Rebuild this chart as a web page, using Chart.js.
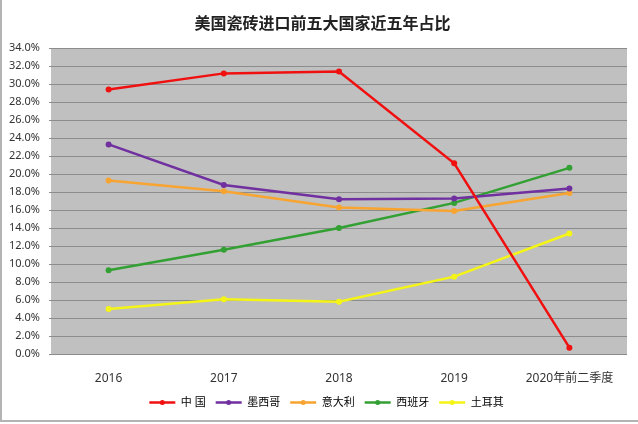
<!DOCTYPE html>
<html lang="zh">
<head>
<meta charset="UTF-8">
<title>美国瓷砖进口前五大国家近五年占比</title>
<style>
  html, body { margin: 0; padding: 0; background: #fff; }
  .wrap { position: relative; width: 638px; height: 424px; }
  .wrap canvas { position: absolute; left: 0; top: 0; }
  .frame {
    position: absolute;
    left: 0; top: 0; width: 638px; height: 422px;
    border-left: 2px solid #b4b4b4;
    border-bottom: 2px solid #b4b4b4;
    box-sizing: border-box;
    pointer-events: none;
  }
</style>
</head>
<body>
<div class="wrap"><canvas id="chart" width="638" height="424"></canvas><div class="frame"></div></div>
<script src="https://cdn.jsdelivr.net/npm/chart.js"></script>
<script>
const categories = ['2016', '2017', '2018', '2019', '2020年前二季度'];
const china  = [29.4, 31.2, 31.4, 21.2, 0.7];
const mexico = [23.3, 18.8, 17.2, 17.3, 18.4];
const italy  = [19.3, 18.1, 16.3, 15.9, 17.9];
const spain  = [9.3, 11.6, 14.0, 16.8, 20.7];
const turkey = [5.0, 6.1, 5.8, 8.6, 13.4];

const seriesNames = ['中 国', '墨西哥', '意大利', '西班牙', '土耳其'];
const seriesColors = ['#f01010', '#7030a0', '#f8a431', '#33a033', '#f4f416'];
const seriesData = [china, mexico, italy, spain, turkey];

const fontFamily = '"Noto Sans", "Noto Sans CJK SC", sans-serif';

// grey plot background like the excel chart
const plotBg = {
  id: 'plotBg',
  beforeDraw(chart) {
    const a = chart.chartArea, ctx = chart.ctx;
    ctx.save();
    ctx.fillStyle = '#c0c0c0';
    ctx.fillRect(a.left, a.top, a.right - a.left, a.bottom - a.top);
    ctx.restore();
  }
};

// title and legend sit a bit right of the canvas centre in the original
const blockShift = {
  id: 'blockShift',
  afterLayout(chart) {
    const lg = chart.legend, dx = 13;
    lg.left += dx;
    lg.right += dx;
    (lg.legendHitBoxes || []).forEach(b => { b.left += dx; });
    const tb = chart.titleBlock;
    if (tb) { tb.left += 9; tb.right += 9; }
  }
};

// dot in the middle of each legend line
const legendDots = {
  id: 'legendDots',
  afterDraw(chart) {
    const lg = chart.legend, ctx = chart.ctx;
    if (!lg || !lg.legendHitBoxes) return;
    lg.legendHitBoxes.forEach((box, i) => {
      const bw = lg.options.labels.boxWidth;
      ctx.save();
      ctx.fillStyle = seriesColors[i];
      ctx.beginPath();
      ctx.arc(box.left + bw / 2, box.top + box.height / 2, 2.5, 0, Math.PI * 2);
      ctx.fill();
      ctx.restore();
    });
  }
};

new Chart(document.getElementById('chart'), {
  type: 'line',
  data: {
    labels: categories,
    datasets: seriesData.map((d, i) => ({
      label: seriesNames[i],
      data: d,
      borderColor: seriesColors[i],
      backgroundColor: seriesColors[i],
      borderWidth: 2.5,
      pointRadius: 3,
      pointBorderWidth: 0,
      pointStyle: 'circle',
      tension: 0
    }))
  },
  options: {
    responsive: false,
    animation: false,
    devicePixelRatio: 1,
    layout: { padding: { left: 0, right: 11, top: 0, bottom: 6 } },
    plugins: {
      title: {
        display: true,
        text: '美国瓷砖进口前五大国家近五年占比',
        color: '#222',
        font: { family: fontFamily, size: 16, weight: 'bold' },
        padding: { top: 15, bottom: 14 }
      },
      legend: {
        position: 'bottom',
        labels: {
          usePointStyle: false,
          boxWidth: 26,
          boxHeight: 0,
          padding: 10,
          color: '#333',
          font: { family: fontFamily, size: 11 },
          generateLabels(chart) {
            return chart.data.datasets.map((ds, i) => ({
              text: ds.label,
              fillStyle: seriesColors[i],
              strokeStyle: seriesColors[i],
              lineWidth: 2.5,
              datasetIndex: i,
              hidden: false
            }));
          }
        }
      },
      tooltip: { enabled: false }
    },
    scales: {
      x: {
        offset: true,
        grid: { display: false },
        border: { display: false },
        ticks: { color: '#333', font: { family: fontFamily, size: 12 }, padding: 9, maxRotation: 0 },
        afterFit(scale) { scale.height = 33; }
      },
      y: {
        min: 0,
        max: 34,
        ticks: {
          stepSize: 2,
          color: '#333',
          font: { family: fontFamily, size: 11 },
          padding: 9,
          callback: v => v.toFixed(1) + '%'
        },
        grid: { color: '#8c8c8c', lineWidth: 1, tickLength: 2 },
        border: { display: false },
        afterFit(scale) { scale.width = 51; }
      }
    }
  },
  plugins: [plotBg, blockShift, legendDots]
});
</script>
</body>
</html>
